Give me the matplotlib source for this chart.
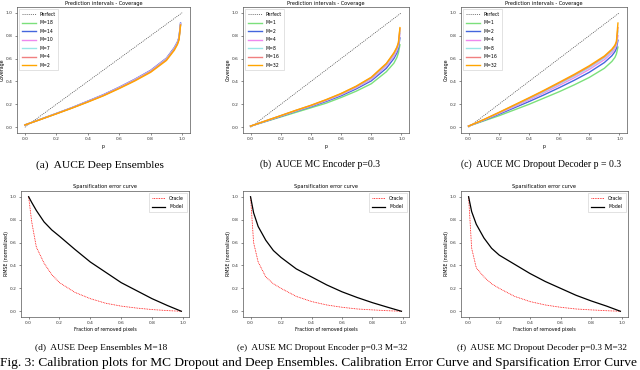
import matplotlib.pyplot as plt

# ---- calibration (coverage) data ----
p = [0.0, 0.1, 0.2, 0.3, 0.4, 0.5, 0.6, 0.7, 0.8, 0.9, 0.95, 0.97, 0.98, 0.99]

ens_labels = ["M=18", "M=14", "M=10", "M=7", "M=4", "M=2"]
ens_cov = [
    [0.02, 0.07, 0.12, 0.17, 0.225, 0.28, 0.345, 0.415, 0.49, 0.595, 0.685, 0.735, 0.775, 0.90],
    [0.02, 0.07, 0.12, 0.172, 0.228, 0.285, 0.35, 0.42, 0.497, 0.603, 0.695, 0.745, 0.785, 0.91],
    [0.02, 0.07, 0.12, 0.171, 0.226, 0.283, 0.348, 0.418, 0.494, 0.60, 0.69, 0.74, 0.78, 0.905],
    [0.02, 0.07, 0.12, 0.17, 0.224, 0.28, 0.345, 0.414, 0.49, 0.596, 0.686, 0.736, 0.776, 0.90],
    [0.02, 0.069, 0.119, 0.169, 0.222, 0.278, 0.342, 0.41, 0.486, 0.59, 0.68, 0.73, 0.77, 0.895],
    [0.02, 0.068, 0.117, 0.167, 0.22, 0.275, 0.338, 0.405, 0.48, 0.583, 0.672, 0.722, 0.762, 0.89],
]

mc_labels = ["M=1", "M=2", "M=4", "M=8", "M=16", "M=32"]
enc_cov = [
    [0.01, 0.05, 0.09, 0.13, 0.17, 0.21, 0.26, 0.315, 0.38, 0.485, 0.56, 0.61, 0.65, 0.72],
    [0.01, 0.052, 0.095, 0.14, 0.18, 0.225, 0.275, 0.335, 0.405, 0.515, 0.60, 0.65, 0.69, 0.78],
    [0.01, 0.054, 0.098, 0.143, 0.185, 0.232, 0.284, 0.345, 0.418, 0.535, 0.62, 0.67, 0.71, 0.82],
    [0.01, 0.055, 0.10, 0.145, 0.188, 0.236, 0.289, 0.351, 0.427, 0.545, 0.635, 0.685, 0.725, 0.84],
    [0.01, 0.056, 0.101, 0.147, 0.19, 0.239, 0.293, 0.356, 0.433, 0.553, 0.645, 0.695, 0.735, 0.86],
    [0.01, 0.056, 0.102, 0.148, 0.192, 0.241, 0.295, 0.359, 0.437, 0.558, 0.65, 0.70, 0.74, 0.87],
]
dec_cov = [
    [0.01, 0.055, 0.10, 0.15, 0.20, 0.255, 0.31, 0.37, 0.435, 0.515, 0.575, 0.61, 0.64, 0.70],
    [0.01, 0.06, 0.113, 0.168, 0.224, 0.283, 0.345, 0.41, 0.48, 0.565, 0.625, 0.66, 0.69, 0.76],
    [0.01, 0.063, 0.12, 0.178, 0.238, 0.30, 0.365, 0.432, 0.505, 0.59, 0.65, 0.685, 0.715, 0.80],
    [0.01, 0.065, 0.124, 0.185, 0.247, 0.31, 0.378, 0.446, 0.52, 0.605, 0.665, 0.70, 0.73, 0.84],
    [0.01, 0.066, 0.127, 0.19, 0.253, 0.318, 0.386, 0.455, 0.53, 0.615, 0.675, 0.71, 0.74, 0.87],
    [0.01, 0.067, 0.129, 0.193, 0.257, 0.323, 0.392, 0.462, 0.537, 0.622, 0.682, 0.717, 0.75, 0.91],
]

# ---- sparsification data ----
frac = [0.0, 0.02, 0.05, 0.1, 0.15, 0.2, 0.3, 0.4, 0.5, 0.6, 0.7, 0.8, 0.9, 0.99]
ens_model = [1.0, 0.95, 0.88, 0.78, 0.71, 0.655, 0.54, 0.43, 0.34, 0.25, 0.18, 0.11, 0.05, 0.0]
ens_oracle = [1.0, 0.78, 0.56, 0.42, 0.32, 0.25, 0.165, 0.11, 0.07, 0.045, 0.028, 0.015, 0.006, 0.0]
enc_model = [1.0, 0.86, 0.74, 0.62, 0.53, 0.47, 0.37, 0.30, 0.23, 0.17, 0.12, 0.075, 0.035, 0.0]
enc_oracle = [1.0, 0.60, 0.43, 0.30, 0.24, 0.20, 0.13, 0.085, 0.055, 0.035, 0.02, 0.012, 0.005, 0.0]
dec_model = [1.0, 0.87, 0.76, 0.64, 0.55, 0.49, 0.41, 0.33, 0.26, 0.20, 0.14, 0.09, 0.045, 0.0]
dec_oracle = [1.0, 0.55, 0.38, 0.30, 0.24, 0.20, 0.13, 0.085, 0.055, 0.035, 0.02, 0.012, 0.005, 0.0]

colors = ["#7be07b", "#4466dd", "#ee88ee", "#99e6e6", "#f08080", "#ffa500"]
ticks = [0.0, 0.2, 0.4, 0.6, 0.8, 1.0]

W, H = 640, 370
fig = plt.figure(figsize=(6.4, 3.7), dpi=100)


def add_ax(left, right, top, bottom):
    ax = fig.add_axes([left / W, 1 - bottom / H, (right - left) / W, (bottom - top) / H])
    ax.set_xticks(ticks)
    ax.set_yticks(ticks)
    ax.tick_params(labelsize=3.2, length=1.5, width=0.4, pad=1.5, colors="#333333")
    for s in ax.spines.values():
        s.set_linewidth(0.5)
        s.set_color("#555555")
    return ax


def coverage(ax, data, labels):
    ax.plot([0, 1], [0, 1], ls=(0, (1.5, 1.5)), color="#444444", lw=0.5, label="Perfect")
    for vals, lab, c in zip(data, labels, colors):
        ax.plot(p, vals, color=c, lw=1.0, label=lab)
    ax.set_title("Prediction intervals - Coverage", fontsize=3.6, pad=1.2)
    ax.set_xlabel("p", fontsize=3.4, labelpad=2)
    ax.set_ylabel("Coverage", fontsize=3.4, labelpad=1)
    ax.legend(loc="upper left", fontsize=3.3, handlelength=3, labelspacing=0.75,
              borderpad=0.6, frameon=True, fancybox=False, edgecolor="#cccccc",
              framealpha=1).get_frame().set_linewidth(0.4)


def sparsification(ax, oracle, model):
    ax.plot(frac, oracle, color="red", ls=(0, (1, 1)), lw=0.6, label="Oracle")
    ax.plot(frac, model, color="black", lw=0.9, label="Model")
    ax.set_title("Sparsification error curve", fontsize=3.6, pad=2)
    ax.set_xlabel("Fraction of removed pixels", fontsize=3.4, labelpad=1.5)
    ax.set_ylabel("RMSE (normalized)", fontsize=3.4, labelpad=1)
    ax.legend(loc="upper right", fontsize=3.3, handlelength=3, labelspacing=0.75,
              borderpad=0.6, fancybox=False, edgecolor="#cccccc",
              framealpha=1).get_frame().set_linewidth(0.4)


ax_a = add_ax(17, 190, 7, 133)
ax_b = add_ax(243, 409, 7, 133)
ax_c = add_ax(461, 627, 7, 133)
ax_d = add_ax(21, 189, 191, 317)
ax_e = add_ax(243, 409, 191, 317)
ax_f = add_ax(461, 628, 191, 317)

coverage(ax_a, ens_cov, ens_labels)
coverage(ax_b, enc_cov, mc_labels)
coverage(ax_c, dec_cov, mc_labels)
sparsification(ax_d, ens_oracle, ens_model)
sparsification(ax_e, enc_oracle, enc_model)
sparsification(ax_f, dec_oracle, dec_model)

serif = "Liberation Serif"
captions = [
    (100, 165, "(a)  AUCE Deep Ensembles", 8.2),
    (320, 164, "(b)  AUCE MC Encoder p=0.3", 7),
    (541, 164, "(c)  AUCE MC Dropout Decoder p = 0.3", 7),
    (101, 348, "(d)  AUSE Deep Ensembles M=18", 6.8),
    (322, 348, "(e)  AUSE MC Dropout Encoder p=0.3 M=32", 6.7),
    (542, 348, "(f)  AUSE MC Dropout Decoder p=0.3 M=32", 6.7),
]
for x, y, txt, fs in captions:
    fig.text(x / W, 1 - y / H, txt, ha="center", va="center", family=serif, fontsize=fs)

fig.text(0.0, 1 - 363 / H,
         "Fig. 3: Calibration plots for MC Dropout and Deep Ensembles. Calibration Error Curve and Sparsification Error Curve",
         ha="left", va="center", family=serif, fontsize=9.6)

fig.savefig("out.png", dpi=100)
